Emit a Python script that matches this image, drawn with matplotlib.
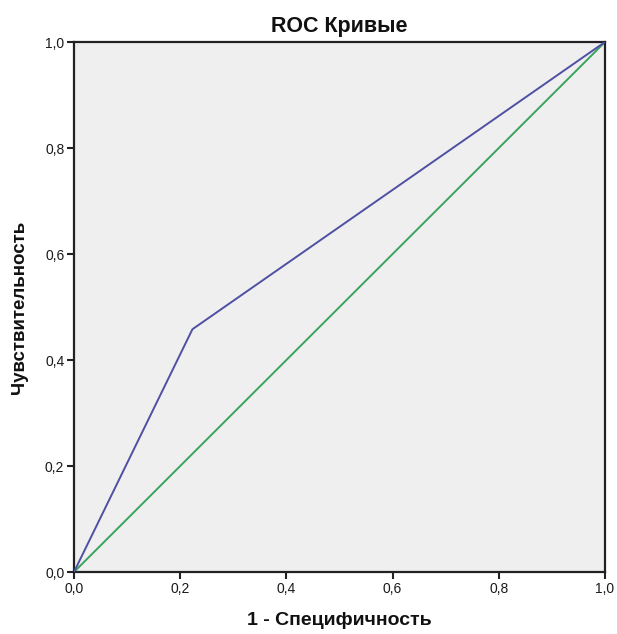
import matplotlib
matplotlib.use("Agg")
import matplotlib.pyplot as plt
from matplotlib.ticker import FuncFormatter

plt.rcParams['font.family'] = ['Liberation Sans', 'DejaVu Sans']

roc_fpr = [0.0, 0.223, 1.0]
roc_tpr = [0.0, 0.458, 1.0]
ref_x = [0.0, 1.0]
ref_y = [0.0, 1.0]
ticks = [0.0, 0.2, 0.4, 0.6, 0.8, 1.0]

fig = plt.figure(figsize=(6.17, 6.34), dpi=100)
ax = fig.add_axes([74/617, 1-572/634, (605-74)/617, (572-42)/634])
ax.set_facecolor('#efefef')
ax.plot(roc_fpr, roc_tpr, color='#4f4fa3', lw=1.4, zorder=3)
ax.plot(ref_x, ref_y, color='#3aa35e', lw=1.4, zorder=2)
ax.set_xlim(0, 1)
ax.set_ylim(0, 1)
ax.set_xticks(ticks)
ax.set_yticks(ticks)
fmt = FuncFormatter(lambda v, p: f"{v:.1f}".replace('.', ','))
ax.xaxis.set_major_formatter(fmt)
ax.yaxis.set_major_formatter(fmt)
ax.tick_params(direction='out', length=5, width=1.5, labelsize=10, color='#222222', labelcolor='#1a1a1a', pad=2)
for s in ax.spines.values():
    s.set_linewidth(1.6)
    s.set_color('#222222')
ax.set_title('ROC Кривые', fontsize=15.5, fontweight='bold', pad=7, color='#111111')
ax.set_xlabel('1 - Специфичность', fontsize=14, fontweight='bold', labelpad=12, color='#111111')
ax.set_ylabel('Чувствительность', fontsize=13.5, fontweight='bold', labelpad=12, color='#111111')
fig.savefig('out.png', dpi=100)
